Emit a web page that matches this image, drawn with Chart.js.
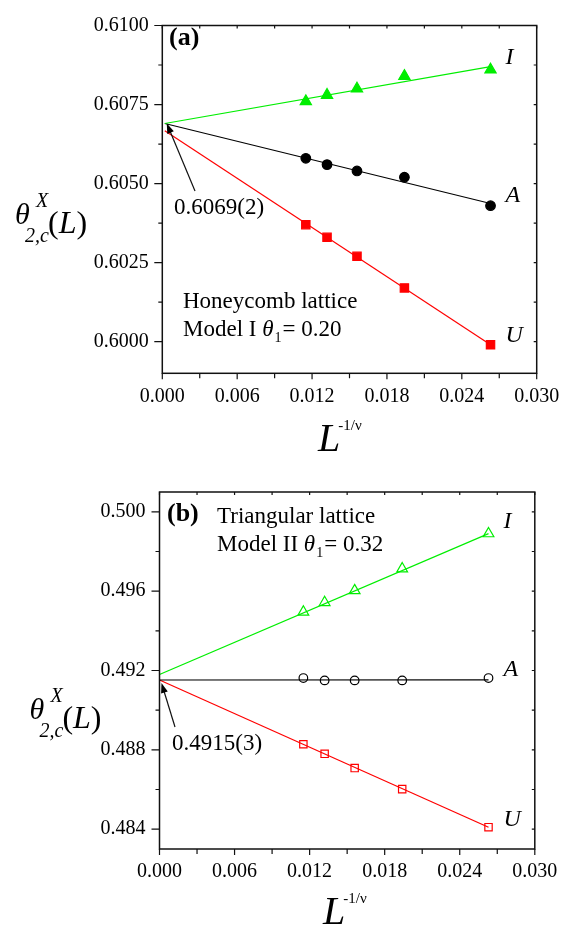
<!DOCTYPE html>
<html>
<head>
<meta charset="utf-8">
<script src="https://cdn.jsdelivr.net/npm/chart.js@4.4.0/dist/chart.umd.min.js"></script>
<style>
  html, body { margin: 0; padding: 0; background: #fff; }
  canvas { display: block; }
</style>
</head>
<body>
<canvas id="chartA" width="576" height="466"></canvas>
<canvas id="chartB" width="576" height="466"></canvas>
<script>
// =============================
// DATA
// =============================
const xL = [0.0115, 0.0132, 0.0156, 0.0194, 0.0263];   // L^(-1/nu)

// (a) honeycomb lattice, model I
const aI = [0.6076, 0.6078, 0.6080, 0.6084, 0.6086];
const aA = [0.6058, 0.6056, 0.6054, 0.6052, 0.6043];
const aU = [0.6037, 0.6033, 0.6027, 0.6017, 0.5999];
const aFitX = [0.0002, 0.0263];                          // ends of the fitted lines
const aFitI = [0.6069, 0.6087];
const aFitA = [0.6069, 0.60437];
const aFitU = [0.60667, 0.5999];

// (b) triangular lattice, model II
const bI = [0.49495, 0.49543, 0.49603, 0.49713, 0.4989];
const bA = [0.49162, 0.4915, 0.4915, 0.4915, 0.49162];
const bU = [0.48828, 0.4878, 0.48708, 0.48602, 0.4841];
const bFitX = [0, 0.0263];
const bFitI = [0.4918, 0.4989];
const bFitA = [0.49152, 0.49153];
const bFitU = [0.49152, 0.4841];

// ticks
const xTicks = [0, 0.006, 0.012, 0.018, 0.024, 0.030];
const xMinor = [0.003, 0.009, 0.015, 0.021, 0.027];
const aYTicks = [0.6000, 0.6025, 0.6050, 0.6075, 0.6100];
const aYMinor = [0.60125, 0.60375, 0.60625, 0.60875];
const bYTicks = [0.484, 0.488, 0.492, 0.496, 0.500];
const bYMinor = [0.486, 0.490, 0.494, 0.498];

const SERIF = '"Liberation Serif", "Times New Roman", serif';
const GREEN = "#00ee00";
const RED = "#ff0000";
const BLACK = "#000000";

// =============================
// Helpers
// =============================
function pts(ys, xs) {
  return ys.map((y, i) => ({ x: (xs || xL)[i], y: y }));
}

function txt(ctx, s, x, y, font) {
  ctx.font = font;
  ctx.textAlign = "left";
  ctx.textBaseline = "alphabetic";
  ctx.fillText(s, x, y);
  return ctx.measureText(s).width;
}

function arrow(ctx, x1, y1, x2, y2) {
  const a = Math.atan2(y2 - y1, x2 - x1);
  ctx.beginPath();
  ctx.moveTo(x1, y1);
  ctx.lineTo(x2 - 6 * Math.cos(a), y2 - 6 * Math.sin(a));
  ctx.stroke();
  ctx.beginPath();
  ctx.moveTo(x2, y2);
  ctx.lineTo(x2 - 10 * Math.cos(a) + 3.5 * Math.sin(a), y2 - 10 * Math.sin(a) - 3.5 * Math.cos(a));
  ctx.lineTo(x2 - 10 * Math.cos(a) - 3.5 * Math.sin(a), y2 - 10 * Math.sin(a) + 3.5 * Math.cos(a));
  ctx.closePath();
  ctx.fill();
}

// frame, ticks, axis titles and annotations
const decor = {
  id: "decor",
  afterDraw(chart, args, p) {
    const ctx = chart.ctx;
    const { left, right, top, bottom } = chart.chartArea;
    const xs = chart.scales.x, ys = chart.scales.y;
    ctx.save();
    ctx.strokeStyle = "#111";
    ctx.fillStyle = "#000";
    ctx.lineWidth = 1.2;
    ctx.beginPath();
    xTicks.forEach(v => {
      const px = xs.getPixelForValue(v);
      ctx.moveTo(px, bottom); ctx.lineTo(px, bottom + 6);
      ctx.moveTo(px, top); ctx.lineTo(px, top + 3);
    });
    xMinor.forEach(v => {
      const px = xs.getPixelForValue(v);
      ctx.moveTo(px, bottom); ctx.lineTo(px, bottom + 5);
      ctx.moveTo(px, top); ctx.lineTo(px, top + 3);
    });
    p.yTicks.forEach(v => {
      const py = ys.getPixelForValue(v);
      ctx.moveTo(left, py); ctx.lineTo(left - 8, py);
      ctx.moveTo(right, py); ctx.lineTo(right - 3, py);
    });
    p.yMinor.forEach(v => {
      const py = ys.getPixelForValue(v);
      ctx.moveTo(left, py); ctx.lineTo(left - 4, py);
      ctx.moveTo(right, py); ctx.lineTo(right - 3, py);
    });
    ctx.stroke();
    ctx.lineWidth = 1.5;
    ctx.strokeRect(left, top, right - left, bottom - top);

    // y title: theta_{2,c}^X(L)
    const tx = p.thetaAt[0], ty = p.thetaAt[1];
    txt(ctx, "θ", tx, ty, "italic 30px " + SERIF);
    txt(ctx, "X", tx + 21, ty - 17, "italic 20px " + SERIF);
    txt(ctx, "2,c", tx + 10, ty + 18, "italic 20px " + SERIF);
    let cx = tx + 33;
    cx += txt(ctx, "(", cx, ty + 9, "32px " + SERIF);
    cx += txt(ctx, "L", cx, ty + 9, "italic 32px " + SERIF);
    txt(ctx, ")", cx, ty + 9, "32px " + SERIF);

    // x title: L^{-1/nu}
    const lx = p.lAt[0], ly = p.lAt[1];
    const lw = txt(ctx, "L", lx, ly, "italic 40px " + SERIF);
    txt(ctx, "-1/ν", lx + lw - 2, ly - 21, "15px " + SERIF);

    // curve labels
    [["I", p.I], ["A", p.A], ["U", p.U]].forEach(([s, arr], k) => {
      const px = xs.getPixelForValue(xL[4]) + 15;
      const py = ys.getPixelForValue(arr[4]) + p.labelDy[k];
      txt(ctx, s, px, py, "italic 24px " + SERIF);
    });

    // panel tag and description
    txt(ctx, p.tag, p.tagAt[0], p.tagAt[1], "bold 26px " + SERIF);
    txt(ctx, p.line1, p.textAt[0], p.textAt[1], "23px " + SERIF);
    let mx = p.textAt[0], my = p.textAt[1] + 28;
    mx += txt(ctx, p.model + " ", mx, my, "23px " + SERIF);
    mx += txt(ctx, "θ", mx, my, "italic 23px " + SERIF);
    mx += txt(ctx, "1", mx + 1, my + 6, "14px " + SERIF) + 2;
    txt(ctx, "= " + p.theta1, mx, my, "23px " + SERIF);

    // extrapolated value with arrow
    ctx.lineWidth = 1.2;
    arrow(ctx, p.arrow[0], p.arrow[1], p.arrow[2], p.arrow[3]);
    txt(ctx, p.extrap, p.extrapAt[0], p.extrapAt[1], "23px " + SERIF);
    ctx.restore();
  }
};

function makePanel(id, p) {
  const filled = p.open ? "rgba(255,255,255,0)" : null;
  new Chart(document.getElementById(id), {
    type: "scatter",
    data: {
      datasets: [
        { data: pts(p.I), pointStyle: "triangle", pointRadius: p.r[0], borderWidth: 1.2,
          borderColor: GREEN, backgroundColor: filled || GREEN },
        { data: pts(p.A), pointStyle: "circle", pointRadius: p.r[1], borderWidth: 1.2,
          borderColor: BLACK, backgroundColor: filled || BLACK },
        { data: pts(p.U), pointStyle: "rect", pointRadius: p.r[2], borderWidth: 1.2,
          borderColor: RED, backgroundColor: filled || RED },
        { data: pts(p.fitI, p.fitX), showLine: true, pointRadius: 0, borderColor: GREEN, borderWidth: 1.2 },
        { data: pts(p.fitA, p.fitX), showLine: true, pointRadius: 0, borderColor: BLACK, borderWidth: 1.2 },
        { data: pts(p.fitU, p.fitX), showLine: true, pointRadius: 0, borderColor: RED, borderWidth: 1.2 }
      ]
    },
    options: {
      responsive: false,
      animation: false,
      devicePixelRatio: 1,
      layout: { padding: { left: 0, right: 576 - p.box[1], top: p.box[2], bottom: 0 } },
      plugins: { legend: { display: false }, tooltip: { enabled: false }, decor: p },
      scales: {
        x: {
          type: "linear", min: 0, max: 0.03,
          afterBuildTicks: s => { s.ticks = xTicks.map(v => ({ value: v })); },
          afterFit: s => { s.height = 466 - p.box[3]; },
          grid: { display: false, drawTicks: false },
          border: { display: false },
          ticks: { padding: 11, color: "#000", maxRotation: 0, autoSkip: false,
                   font: { family: SERIF, size: 20 }, callback: v => v.toFixed(3) }
        },
        y: {
          type: "linear", min: p.yMin, max: p.yMax,
          afterBuildTicks: s => { s.ticks = p.yTicks.map(v => ({ value: v })); },
          afterFit: s => { s.width = p.box[0]; },
          grid: { display: false, drawTicks: false },
          border: { display: false },
          ticks: { padding: p.yPad, color: "#000", autoSkip: false,
                   font: { family: SERIF, size: 20 }, callback: v => v.toFixed(p.yDec) }
        }
      }
    },
    plugins: [decor]
  });
}

// =============================
// Panels
// =============================
makePanel("chartA", {
  I: aI, A: aA, U: aU, fitX: aFitX, fitI: aFitI, fitA: aFitA, fitU: aFitU,
  yMin: 0.599, yMax: 0.610, yTicks: aYTicks, yMinor: aYMinor, yDec: 4, yPad: 13.5,
  box: [162.3, 536.7, 14.3, 373.3],
  open: false, r: [6.5, 4.8, 5.9],
  labelDy: [-6, -4, -3],
  thetaAt: [15, 224], lAt: [318, 451],
  tag: "(a)", tagAt: [169, 45],
  line1: "Honeycomb lattice", model: "Model I", theta1: "0.20", textAt: [183, 308],
  arrow: [195, 191, 166.7, 123.3], extrap: "0.6069(2)", extrapAt: [174, 214]
});

makePanel("chartB", {
  I: bI, A: bA, U: bU, fitX: bFitX, fitI: bFitI, fitA: bFitA, fitU: bFitU,
  yMin: 0.483, yMax: 0.501, yTicks: bYTicks, yMinor: bYMinor, yDec: 3, yPad: 14,
  box: [159.5, 534.8, 24, 383],
  open: true, r: [6.2, 4.3, 5.2],
  labelDy: [-6, -2, -1],
  thetaAt: [29.4, 253], lAt: [323, 458],
  tag: "(b)", tagAt: [167, 55],
  line1: "Triangular lattice", model: "Model II", theta1: "0.32", textAt: [217, 57],
  arrow: [175, 261, 161.5, 217], extrap: "0.4915(3)", extrapAt: [172, 284]
});
</script>
</body>
</html>
